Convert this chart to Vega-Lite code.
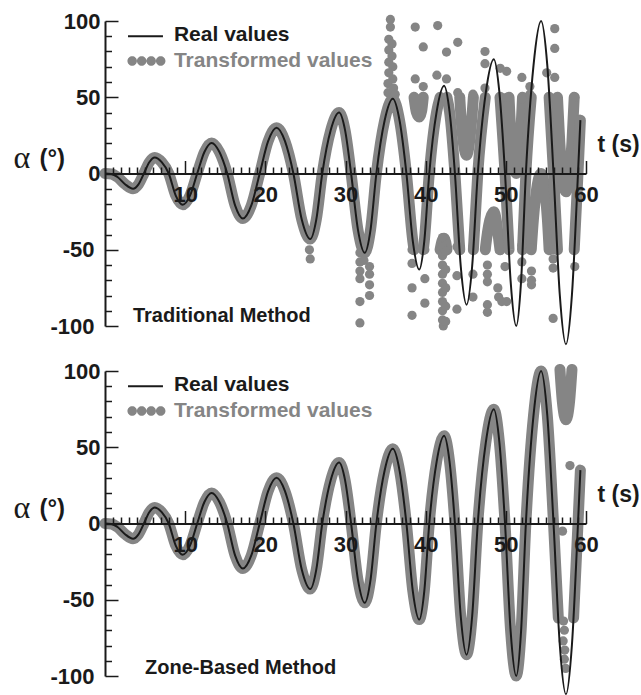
{
  "$schema": "https://vega.github.io/schema/vega-lite/v6.json",
  "padding": {"left": 13, "top": 10, "right": 0, "bottom": 0},
  "bounds": "flush",
  "spacing": 45,
  "config": {"view": {"stroke": null}, "font": "Liberation Sans"},
  "datasets": {
    "real": [
      {"t":0,"a":0},{"t":0.8,"a":-0.3},{"t":1.6,"a":-2.5},{"t":2.5,"a":-7},{"t":3.5,"a":-10},{"t":4.175,"a":-7.1},{"t":4.85,"a":0},{"t":5.525,"a":7.4},{"t":6.2,"a":10.5},{"t":7.075,"a":7.4},{"t":7.95,"a":0},{"t":8.825,"a":-14.5},{"t":9.7,"a":-20.5},{"t":10.6,"a":-14.5},{"t":11.5,"a":0},{"t":12.4,"a":14.1},{"t":13.3,"a":20},{"t":14.275,"a":14.1},{"t":15.25,"a":0},{"t":16.225,"a":-20.9},{"t":17.2,"a":-29.5},{"t":18.25,"a":-20.9},{"t":19.3,"a":0},{"t":20.35,"a":21.2},{"t":21.4,"a":30},{"t":22.45,"a":21.2},{"t":23.5,"a":0},{"t":24.55,"a":-30.4},{"t":25.6,"a":-43},{"t":26.35,"a":-30.4},{"t":27.1,"a":0},{"t":28.15,"a":28.3},{"t":29.2,"a":40},{"t":29.95,"a":28.3},{"t":30.7,"a":0},{"t":31.55,"a":-36.8},{"t":32.4,"a":-52},{"t":33.125,"a":-36.8},{"t":33.85,"a":0},{"t":34.875,"a":34.6},{"t":35.9,"a":49},{"t":36.75,"a":34.6},{"t":37.6,"a":0},{"t":38.4,"a":-44.5},{"t":39.2,"a":-63},{"t":39.825,"a":-44.5},{"t":40.45,"a":0},{"t":41.375,"a":40.7},{"t":42.3,"a":57.5},{"t":42.975,"a":40.7},{"t":43.65,"a":0},{"t":44.375,"a":-60.8},{"t":45.1,"a":-86},{"t":45.8,"a":-60.8},{"t":46.5,"a":0},{"t":47.5,"a":53},{"t":48.5,"a":75},{"t":49.2,"a":53},{"t":49.9,"a":0},{"t":50.6,"a":-70.7},{"t":51.3,"a":-100},{"t":51.9,"a":-70.7},{"t":52.5,"a":0},{"t":53.45,"a":70.7},{"t":54.4,"a":100},{"t":55.175,"a":70.7},{"t":55.95,"a":0},{"t":56.725,"a":-79.2},{"t":57.5,"a":-112},{"t":58.25,"a":-79.2},{"t":59.0,"a":0},{"t":59.3,"a":35}
    ],
    "topBand": [
      {"seg":1,"t":0,"a":0},{"seg":1,"t":0.8,"a":-0.3},{"seg":1,"t":1.6,"a":-2.5},{"seg":1,"t":2.5,"a":-7},{"seg":1,"t":3.5,"a":-10},{"seg":1,"t":4.175,"a":-7.1},{"seg":1,"t":4.85,"a":0},{"seg":1,"t":5.525,"a":7.4},{"seg":1,"t":6.2,"a":10.5},{"seg":1,"t":7.075,"a":7.4},{"seg":1,"t":7.95,"a":0},{"seg":1,"t":8.825,"a":-14.5},{"seg":1,"t":9.7,"a":-20.5},{"seg":1,"t":10.6,"a":-14.5},{"seg":1,"t":11.5,"a":0},{"seg":1,"t":12.4,"a":14.1},{"seg":1,"t":13.3,"a":20},{"seg":1,"t":14.275,"a":14.1},{"seg":1,"t":15.25,"a":0},{"seg":1,"t":16.225,"a":-20.9},{"seg":1,"t":17.2,"a":-29.5},{"seg":1,"t":18.25,"a":-20.9},{"seg":1,"t":19.3,"a":0},{"seg":1,"t":20.35,"a":21.2},{"seg":1,"t":21.4,"a":30},{"seg":1,"t":22.45,"a":21.2},{"seg":1,"t":23.5,"a":0},{"seg":1,"t":24.55,"a":-30.4},{"seg":1,"t":25.6,"a":-43},{"seg":1,"t":26.35,"a":-30.4},{"seg":1,"t":27.1,"a":0},{"seg":1,"t":28.15,"a":28.3},{"seg":1,"t":29.2,"a":40},{"seg":1,"t":29.95,"a":28.3},{"seg":1,"t":30.7,"a":0},{"seg":1,"t":31.55,"a":-36.8},{"seg":1,"t":32.4,"a":-52},{"seg":1,"t":33.125,"a":-36.8},{"seg":1,"t":33.85,"a":0},{"seg":1,"t":34.875,"a":34.6},{"seg":1,"t":35.9,"a":49},{"seg":1,"t":36.75,"a":34.6},{"seg":1,"t":37.6,"a":0},{"seg":1,"t":38.4,"a":-44.5},{"seg":1,"t":38.55,"a":-50},
      {"seg":2,"t":38.55,"a":50},{"seg":2,"t":38.85,"a":40},{"seg":2,"t":39.2,"a":37},{"seg":2,"t":39.5,"a":41},{"seg":2,"t":39.7,"a":50},
      {"seg":3,"t":39.7,"a":-50},{"seg":3,"t":39.825,"a":-44.5},{"seg":3,"t":40.45,"a":0},{"seg":3,"t":41.375,"a":40.7},{"seg":3,"t":41.8,"a":50},
      {"seg":4,"t":41.8,"a":-50},{"seg":4,"t":42.05,"a":-44},{"seg":4,"t":42.3,"a":-42.5},{"seg":4,"t":42.5,"a":-45},{"seg":4,"t":42.65,"a":-50},
      {"seg":5,"t":42.65,"a":50},{"seg":5,"t":42.975,"a":40.7},{"seg":5,"t":43.65,"a":0},{"seg":5,"t":44.25,"a":-50},
      {"seg":6,"t":44.25,"a":50},{"seg":6,"t":44.375,"a":39.2},{"seg":6,"t":45.1,"a":12},{"seg":6,"t":45.8,"a":39.2},{"seg":6,"t":45.95,"a":50},
      {"seg":7,"t":45.95,"a":-50},{"seg":7,"t":46.5,"a":0},{"seg":7,"t":47.44,"a":50},
      {"seg":8,"t":47.44,"a":-50},{"seg":8,"t":47.5,"a":-47},{"seg":8,"t":48.5,"a":-25},{"seg":8,"t":49.2,"a":-47},{"seg":8,"t":49.27,"a":-50},
      {"seg":9,"t":49.27,"a":50},{"seg":9,"t":49.9,"a":0},{"seg":9,"t":50.4,"a":-50},
      {"seg":10,"t":50.4,"a":50},{"seg":10,"t":50.6,"a":29.3},{"seg":10,"t":51.3,"a":0},{"seg":10,"t":51.9,"a":29.3},{"seg":10,"t":52.08,"a":50},
      {"seg":11,"t":52.08,"a":-50},{"seg":11,"t":52.5,"a":0},{"seg":11,"t":53.17,"a":50},
      {"seg":12,"t":53.17,"a":-50},{"seg":12,"t":53.45,"a":-29.3},{"seg":12,"t":54.4,"a":0},{"seg":12,"t":55.175,"a":-29.3},{"seg":12,"t":55.4,"a":-50},
      {"seg":13,"t":55.4,"a":50},{"seg":13,"t":55.95,"a":0},{"seg":13,"t":56.44,"a":-50},
      {"seg":14,"t":56.44,"a":50},{"seg":14,"t":56.725,"a":20.8},{"seg":14,"t":57.5,"a":-12},{"seg":14,"t":58.25,"a":20.8},{"seg":14,"t":58.53,"a":50},
      {"seg":15,"t":58.53,"a":-50},{"seg":15,"t":59.0,"a":0},{"seg":15,"t":59.3,"a":35}
    ],
    "topDots": [
      {"t":35.6,"a":101},{"t":35.6,"a":96},{"t":35.4,"a":88},{"t":35.8,"a":85},{"t":35.4,"a":81},{"t":35.8,"a":77},{"t":35.4,"a":73},{"t":35.9,"a":70},{"t":35.4,"a":66},{"t":35.9,"a":62},{"t":35.3,"a":59},{"t":36.0,"a":56},{"t":35.3,"a":53},{"t":36.2,"a":52},
      {"t":25.5,"a":-50},{"t":25.6,"a":-56},
      {"t":31.8,"a":-52},{"t":31.8,"a":-58},{"t":31.8,"a":-64},{"t":31.8,"a":-69},{"t":31.8,"a":-84},{"t":31.8,"a":-98},{"t":33.0,"a":-61},{"t":33.0,"a":-66},{"t":33.0,"a":-73},{"t":33.0,"a":-80},{"t":32.3,"a":-57},
      {"t":38.3,"a":-50},{"t":38.3,"a":-59},{"t":38.3,"a":-75},{"t":38.3,"a":-93},{"t":39.9,"a":-50},{"t":39.9,"a":-69},{"t":39.9,"a":-85},
      {"t":42.1,"a":-42},{"t":42.1,"a":-48},{"t":42.1,"a":-54},{"t":42.1,"a":-60},{"t":42.1,"a":-66},{"t":42.1,"a":-72},{"t":42.1,"a":-78},{"t":42.1,"a":-84},{"t":42.1,"a":-90},{"t":42.1,"a":-96},{"t":42.2,"a":-100},{"t":42.5,"a":-51},{"t":42.5,"a":-63},{"t":42.5,"a":-75},{"t":42.5,"a":-87},{"t":42.5,"a":-97},
      {"t":43.9,"a":-48},{"t":43.9,"a":-67},{"t":43.9,"a":-89},{"t":45.9,"a":-48},{"t":45.9,"a":-66},{"t":45.9,"a":-81},
      {"t":47.7,"a":-60},{"t":47.7,"a":-66},{"t":47.7,"a":-71},{"t":47.7,"a":-86},{"t":47.7,"a":-91},{"t":49.0,"a":-75},{"t":49.1,"a":-81},{"t":49.5,"a":-84},{"t":49.9,"a":-61},{"t":50.1,"a":-84},
      {"t":52.0,"a":-47},{"t":52.0,"a":-58},{"t":52.0,"a":-69},{"t":53.2,"a":-49},{"t":53.2,"a":-64},{"t":53.2,"a":-70},{"t":53.2,"a":-73},
      {"t":55.9,"a":-50},{"t":55.9,"a":-56},{"t":55.9,"a":-62},{"t":55.9,"a":-95},{"t":58.6,"a":-61},
      {"t":38.7,"a":96},{"t":39.7,"a":83},{"t":41.5,"a":97},{"t":44.0,"a":86},{"t":42.6,"a":79.6},{"t":38.7,"a":62},{"t":41.4,"a":64.5},{"t":42.6,"a":62},{"t":39.7,"a":57},{"t":44.0,"a":53},{"t":45.9,"a":52},
      {"t":47.4,"a":80},{"t":47.4,"a":72},{"t":49.3,"a":69},{"t":50.1,"a":67},{"t":47.4,"a":56},{"t":47.4,"a":50},{"t":52.0,"a":63},{"t":53.0,"a":57},{"t":53.0,"a":52},{"t":50.1,"a":50},{"t":52.0,"a":49},{"t":55.1,"a":66},{"t":56.1,"a":95},{"t":56.1,"a":82},{"t":56.1,"a":63},{"t":58.6,"a":50}
    ],
    "botBand": [
      {"seg":1,"t":0,"a":0},{"seg":1,"t":0.8,"a":-0.3},{"seg":1,"t":1.6,"a":-2.5},{"seg":1,"t":2.5,"a":-7},{"seg":1,"t":3.5,"a":-10},{"seg":1,"t":4.175,"a":-7.1},{"seg":1,"t":4.85,"a":0},{"seg":1,"t":5.525,"a":7.4},{"seg":1,"t":6.2,"a":10.5},{"seg":1,"t":7.075,"a":7.4},{"seg":1,"t":7.95,"a":0},{"seg":1,"t":8.825,"a":-14.5},{"seg":1,"t":9.7,"a":-20.5},{"seg":1,"t":10.6,"a":-14.5},{"seg":1,"t":11.5,"a":0},{"seg":1,"t":12.4,"a":14.1},{"seg":1,"t":13.3,"a":20},{"seg":1,"t":14.275,"a":14.1},{"seg":1,"t":15.25,"a":0},{"seg":1,"t":16.225,"a":-20.9},{"seg":1,"t":17.2,"a":-29.5},{"seg":1,"t":18.25,"a":-20.9},{"seg":1,"t":19.3,"a":0},{"seg":1,"t":20.35,"a":21.2},{"seg":1,"t":21.4,"a":30},{"seg":1,"t":22.45,"a":21.2},{"seg":1,"t":23.5,"a":0},{"seg":1,"t":24.55,"a":-30.4},{"seg":1,"t":25.6,"a":-43},{"seg":1,"t":26.35,"a":-30.4},{"seg":1,"t":27.1,"a":0},{"seg":1,"t":28.15,"a":28.3},{"seg":1,"t":29.2,"a":40},{"seg":1,"t":29.95,"a":28.3},{"seg":1,"t":30.7,"a":0},{"seg":1,"t":31.55,"a":-36.8},{"seg":1,"t":32.4,"a":-52},{"seg":1,"t":33.125,"a":-36.8},{"seg":1,"t":33.85,"a":0},{"seg":1,"t":34.875,"a":34.6},{"seg":1,"t":35.9,"a":49},{"seg":1,"t":36.75,"a":34.6},{"seg":1,"t":37.6,"a":0},{"seg":1,"t":38.4,"a":-44.5},{"seg":1,"t":39.2,"a":-63},{"seg":1,"t":39.825,"a":-44.5},{"seg":1,"t":40.45,"a":0},{"seg":1,"t":41.375,"a":40.7},{"seg":1,"t":42.3,"a":57.5},{"seg":1,"t":42.975,"a":40.7},{"seg":1,"t":43.65,"a":0},{"seg":1,"t":44.375,"a":-60.8},{"seg":1,"t":45.1,"a":-86},{"seg":1,"t":45.8,"a":-60.8},{"seg":1,"t":46.5,"a":0},{"seg":1,"t":47.5,"a":53},{"seg":1,"t":48.5,"a":75},{"seg":1,"t":49.2,"a":53},{"seg":1,"t":49.9,"a":0},{"seg":1,"t":50.6,"a":-70.7},{"seg":1,"t":51.3,"a":-100},{"seg":1,"t":51.9,"a":-70.7},{"seg":1,"t":52.5,"a":0},{"seg":1,"t":53.45,"a":70.7},{"seg":1,"t":54.4,"a":100},{"seg":1,"t":55.175,"a":70.7},{"seg":1,"t":55.95,"a":0},{"seg":1,"t":56.55,"a":-62},
      {"seg":2,"t":56.75,"a":101},{"seg":2,"t":57.05,"a":80},{"seg":2,"t":57.5,"a":68},{"seg":2,"t":57.95,"a":80},{"seg":2,"t":58.25,"a":101},
      {"seg":3,"t":58.45,"a":-62},{"seg":3,"t":59.0,"a":0},{"seg":3,"t":59.3,"a":35}
    ],
    "botDots": [
      {"t":58.0,"a":38},{"t":57.07,"a":-5},{"t":57.2,"a":-64},{"t":57.3,"a":-70},{"t":57.15,"a":-77},{"t":57.35,"a":-83},{"t":57.3,"a":-89},{"t":57.45,"a":-95}
    ]
  },
  "vconcat": [
    {
      "width": 481,
      "height": 305,
      "resolve": {"axis": {"x": "independent", "y": "independent"}},
      "layer": [
        {
          "data": {"name": "topBand"},
          "mark": {"type": "line", "color": "#858585", "strokeWidth": 11, "strokeCap": "round", "strokeJoin": "round", "interpolate": "monotone"},
          "encoding": {
            "x": {"field": "t", "type": "quantitative", "scale": {"domain": [0, 60], "nice": false, "zero": false},
              "axis": {"orient": "bottom", "offset": -152.5, "values": [1,2,3,4,5,6,7,8,9,11,12,13,14,15,16,17,18,19,21,22,23,24,25,26,27,28,29,31,32,33,34,35,36,37,38,39,41,42,43,44,45,46,47,48,49,51,52,53,54,55,56,57,58,59], "tickSize": -6.5, "tickWidth": 1.5, "tickColor": "#1a1a1a", "labels": false, "domain": false, "grid": false, "title": null, "zindex": 1}},
            "y": {"field": "a", "type": "quantitative", "scale": {"domain": [-100, 100], "nice": false, "zero": false},
              "axis": {"orient": "left", "values": [-90,-80,-70,-60,-40,-30,-20,-10,10,20,30,40,60,70,80,90], "tickSize": -6.5, "tickWidth": 1.5, "tickColor": "#1a1a1a", "labels": false, "domain": false, "grid": false, "zindex": 1,
                "title": "(°)", "titleFont": "Liberation Sans", "titleFontWeight": "bold", "titleFontSize": 24, "titleColor": "#1a1a1a", "titleAngle": 0, "titleAlign": "left", "titleBaseline": "alphabetic", "titleX": -66, "titleY": 144}},
            "detail": {"field": "seg", "type": "nominal"}
          }
        },
        {
          "data": {"name": "topDots"},
          "mark": {"type": "circle", "color": "#858585", "size": 85, "opacity": 1},
          "encoding": {
            "x": {"field": "t", "type": "quantitative", "axis": null},
            "y": {"field": "a", "type": "quantitative", "axis": null}
          }
        },
        {
          "data": {"name": "real"},
          "mark": {"type": "line", "color": "#1a1a1a", "strokeWidth": 2, "interpolate": "monotone"},
          "encoding": {
            "x": {"field": "t", "type": "quantitative",
              "axis": {"orient": "bottom", "offset": -152.5, "values": [10,20,30,40,50,60], "tickSize": -13, "tickWidth": 1.5, "tickColor": "#1a1a1a", "domainColor": "#1a1a1a", "domainWidth": 2, "labelFont": "Liberation Sans", "labelFontWeight": "bold", "labelFontSize": 22, "labelColor": "#1a1a1a", "labelPadding": 24, "labelFlush": false, "labelOverlap": false, "grid": false, "zindex": 1,
                "title": "t (s)", "titleFont": "Liberation Sans", "titleFontWeight": "bold", "titleFontSize": 23, "titleColor": "#1a1a1a", "titleAlign": "left", "titleBaseline": "alphabetic", "titleX": 492, "titleY": -22}},
            "y": {"field": "a", "type": "quantitative",
              "axis": {"orient": "left", "values": [-100,-50,0,50,100], "tickSize": -13, "tickWidth": 1.5, "tickColor": "#1a1a1a", "domainColor": "#1a1a1a", "domainWidth": 2, "labelFont": "Liberation Sans", "labelFontWeight": "bold", "labelFontSize": 22, "labelColor": "#1a1a1a", "labelExpr": "datum.value + ''", "labelBaseline": "middle", "labelPadding": {"condition": {"test": "datum.value < 0", "value": 24}, "value": 18}, "grid": false, "zindex": 1,
                "title": "α", "titleFont": "Liberation Serif", "titleFontWeight": "normal", "titleFontSize": 32, "titleColor": "#1a1a1a", "titleAngle": 0, "titleAlign": "left", "titleBaseline": "alphabetic", "titleX": -92, "titleY": 146}}
          }
        },
        {
          "data": {"values": [{}]},
          "mark": {"type": "rule", "color": "#1a1a1a", "strokeWidth": 2},
          "encoding": {"x": {"datum": 2.87, "type": "quantitative", "axis": null}, "x2": {"datum": 7.23}, "y": {"datum": 90, "type": "quantitative", "axis": null}}
        },
        {
          "data": {"values": [{}]},
          "mark": {"type": "text", "text": "Real values", "align": "left", "baseline": "middle", "font": "Liberation Sans", "fontWeight": "bold", "fontSize": 21, "color": "#1a1a1a"},
          "encoding": {"x": {"datum": 8.6, "type": "quantitative", "axis": null}, "y": {"datum": 90.5, "type": "quantitative", "axis": null}}
        },
        {
          "data": {"values": [{}]},
          "mark": {"type": "point", "shape": "M-2,0a0.5,0.5 0 1,0 1,0a0.5,0.5 0 1,0 -1,0Z M-1,0a0.5,0.5 0 1,0 1,0a0.5,0.5 0 1,0 -1,0Z M0,0a0.5,0.5 0 1,0 1,0a0.5,0.5 0 1,0 -1,0Z M1,0a0.5,0.5 0 1,0 1,0a0.5,0.5 0 1,0 -1,0Z", "filled": true, "size": 361, "color": "#858585", "opacity": 1},
          "encoding": {"x": {"datum": 5.17, "type": "quantitative", "axis": null}, "y": {"datum": 73.8, "type": "quantitative", "axis": null}}
        },
        {
          "data": {"values": [{}]},
          "mark": {"type": "text", "text": "Transformed values", "align": "left", "baseline": "middle", "font": "Liberation Sans", "fontWeight": "bold", "fontSize": 21, "color": "#858585"},
          "encoding": {"x": {"datum": 8.6, "type": "quantitative", "axis": null}, "y": {"datum": 73.8, "type": "quantitative", "axis": null}}
        },
        {
          "data": {"values": [{}]},
          "mark": {"type": "text", "text": "Traditional Method", "align": "left", "baseline": "middle", "font": "Liberation Sans", "fontWeight": "bold", "fontSize": 20, "color": "#1a1a1a"},
          "encoding": {"x": {"datum": 3.49, "type": "quantitative", "axis": null}, "y": {"datum": -93.75, "type": "quantitative", "axis": null}}
        }
      ]
    },
    {
      "width": 481,
      "height": 305,
      "resolve": {"axis": {"x": "independent", "y": "independent"}},
      "layer": [
        {
          "data": {"name": "botBand"},
          "mark": {"type": "line", "color": "#858585", "strokeWidth": 11, "strokeCap": "round", "strokeJoin": "round", "interpolate": "monotone"},
          "encoding": {
            "x": {"field": "t", "type": "quantitative", "scale": {"domain": [0, 60], "nice": false, "zero": false},
              "axis": {"orient": "bottom", "offset": -152.5, "values": [1,2,3,4,5,6,7,8,9,11,12,13,14,15,16,17,18,19,21,22,23,24,25,26,27,28,29,31,32,33,34,35,36,37,38,39,41,42,43,44,45,46,47,48,49,51,52,53,54,55,56,57,58,59], "tickSize": -6.5, "tickWidth": 1.5, "tickColor": "#1a1a1a", "labels": false, "domain": false, "grid": false, "title": null, "zindex": 1}},
            "y": {"field": "a", "type": "quantitative", "scale": {"domain": [-100, 100], "nice": false, "zero": false},
              "axis": {"orient": "left", "values": [-90,-80,-70,-60,-40,-30,-20,-10,10,20,30,40,60,70,80,90], "tickSize": -6.5, "tickWidth": 1.5, "tickColor": "#1a1a1a", "labels": false, "domain": false, "grid": false, "zindex": 1,
                "title": "(°)", "titleFont": "Liberation Sans", "titleFontWeight": "bold", "titleFontSize": 24, "titleColor": "#1a1a1a", "titleAngle": 0, "titleAlign": "left", "titleBaseline": "alphabetic", "titleX": -66, "titleY": 144}},
            "detail": {"field": "seg", "type": "nominal"}
          }
        },
        {
          "data": {"name": "botDots"},
          "mark": {"type": "circle", "color": "#858585", "size": 85, "opacity": 1},
          "encoding": {
            "x": {"field": "t", "type": "quantitative", "axis": null},
            "y": {"field": "a", "type": "quantitative", "axis": null}
          }
        },
        {
          "data": {"name": "real"},
          "mark": {"type": "line", "color": "#1a1a1a", "strokeWidth": 2, "interpolate": "monotone"},
          "encoding": {
            "x": {"field": "t", "type": "quantitative",
              "axis": {"orient": "bottom", "offset": -152.5, "values": [10,20,30,40,50,60], "tickSize": -13, "tickWidth": 1.5, "tickColor": "#1a1a1a", "domainColor": "#1a1a1a", "domainWidth": 2, "labelFont": "Liberation Sans", "labelFontWeight": "bold", "labelFontSize": 22, "labelColor": "#1a1a1a", "labelPadding": 24, "labelFlush": false, "labelOverlap": false, "grid": false, "zindex": 1,
                "title": "t (s)", "titleFont": "Liberation Sans", "titleFontWeight": "bold", "titleFontSize": 23, "titleColor": "#1a1a1a", "titleAlign": "left", "titleBaseline": "alphabetic", "titleX": 492, "titleY": -22}},
            "y": {"field": "a", "type": "quantitative",
              "axis": {"orient": "left", "values": [-100,-50,0,50,100], "tickSize": -13, "tickWidth": 1.5, "tickColor": "#1a1a1a", "domainColor": "#1a1a1a", "domainWidth": 2, "labelFont": "Liberation Sans", "labelFontWeight": "bold", "labelFontSize": 22, "labelColor": "#1a1a1a", "labelExpr": "datum.value + ''", "labelBaseline": "middle", "labelPadding": {"condition": {"test": "datum.value < 0", "value": 24}, "value": 18}, "grid": false, "zindex": 1,
                "title": "α", "titleFont": "Liberation Serif", "titleFontWeight": "normal", "titleFontSize": 32, "titleColor": "#1a1a1a", "titleAngle": 0, "titleAlign": "left", "titleBaseline": "alphabetic", "titleX": -92, "titleY": 146}}
          }
        },
        {
          "data": {"values": [{}]},
          "mark": {"type": "rule", "color": "#1a1a1a", "strokeWidth": 2},
          "encoding": {"x": {"datum": 2.87, "type": "quantitative", "axis": null}, "x2": {"datum": 7.23}, "y": {"datum": 90, "type": "quantitative", "axis": null}}
        },
        {
          "data": {"values": [{}]},
          "mark": {"type": "text", "text": "Real values", "align": "left", "baseline": "middle", "font": "Liberation Sans", "fontWeight": "bold", "fontSize": 21, "color": "#1a1a1a"},
          "encoding": {"x": {"datum": 8.6, "type": "quantitative", "axis": null}, "y": {"datum": 90.5, "type": "quantitative", "axis": null}}
        },
        {
          "data": {"values": [{}]},
          "mark": {"type": "point", "shape": "M-2,0a0.5,0.5 0 1,0 1,0a0.5,0.5 0 1,0 -1,0Z M-1,0a0.5,0.5 0 1,0 1,0a0.5,0.5 0 1,0 -1,0Z M0,0a0.5,0.5 0 1,0 1,0a0.5,0.5 0 1,0 -1,0Z M1,0a0.5,0.5 0 1,0 1,0a0.5,0.5 0 1,0 -1,0Z", "filled": true, "size": 361, "color": "#858585", "opacity": 1},
          "encoding": {"x": {"datum": 5.17, "type": "quantitative", "axis": null}, "y": {"datum": 73.8, "type": "quantitative", "axis": null}}
        },
        {
          "data": {"values": [{}]},
          "mark": {"type": "text", "text": "Transformed values", "align": "left", "baseline": "middle", "font": "Liberation Sans", "fontWeight": "bold", "fontSize": 21, "color": "#858585"},
          "encoding": {"x": {"datum": 8.6, "type": "quantitative", "axis": null}, "y": {"datum": 73.8, "type": "quantitative", "axis": null}}
        },
        {
          "data": {"values": [{}]},
          "mark": {"type": "text", "text": "Zone-Based Method", "align": "left", "baseline": "middle", "font": "Liberation Sans", "fontWeight": "bold", "fontSize": 20, "color": "#1a1a1a"},
          "encoding": {"x": {"datum": 4.99, "type": "quantitative", "axis": null}, "y": {"datum": -95, "type": "quantitative", "axis": null}}
        }
      ]
    }
  ]
}
